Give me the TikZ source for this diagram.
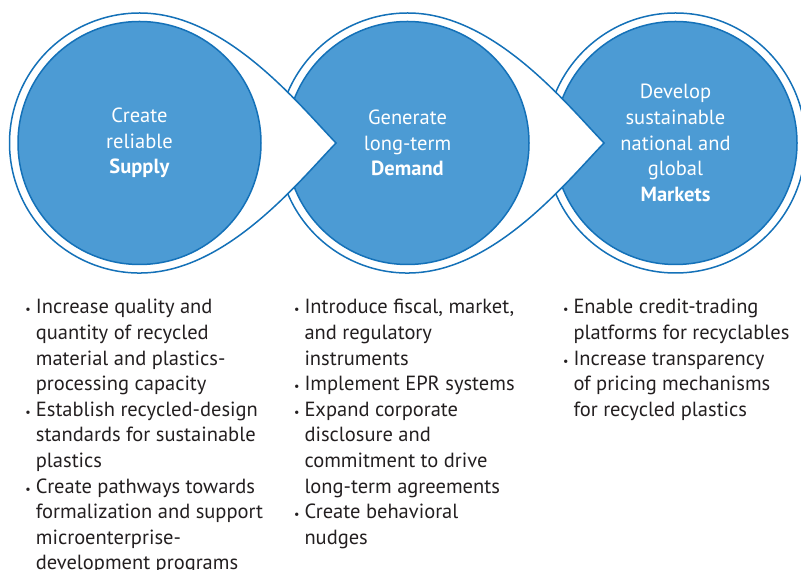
\documentclass[tikz,border=0pt]{standalone}
\usepackage{fontspec}
\setmainfont{PT Sans}
\definecolor{fillblue}{RGB}{76,155,212}
\definecolor{lineblue}{RGB}{20,113,184}
\definecolor{txt}{RGB}{35,31,32}
\newcommand\bu{\leavevmode\llap{{\fontsize{12}{12}\selectfont •}\hspace{5pt}}}
\begin{document}
\begin{tikzpicture}[x=1pt,y=1pt,
 ring/.style={draw=lineblue, line width=1.5pt, fill=white},
 disc/.style={circle, draw=lineblue, line width=1.5pt, fill=fillblue, minimum size=243pt, inner sep=0pt, text=white, align=center, font=\fontsize{20.5}{25.6}\selectfont},
 list/.style={anchor=base west, inner sep=0pt, text=txt, font=\fontsize{20.5}{25.6}\selectfont}]
\useasboundingbox (0,0) rectangle (801,570);

% group 3
\coordinate (c3) at (675.5,427);
\draw[ring] (c3) circle[radius=130];
\node[disc] (markets) at (c3) {Develop\\sustainable\\national and\\global\\\textbf{Markets}};

% group 2
\coordinate (c2) at (407.5,427);
\draw[ring, shift={(c2)}] (78:130) .. controls (100.4,111.6) and (162,36) .. (196.5,0) .. controls (162,-36) and (100.4,-111.6) .. (-78:130) arc[start angle=-78, end angle=-282, radius=130] -- cycle;
\node[disc] (demand) at (c2) {Generate\\long-term\\\textbf{Demand}};

% group 1
\coordinate (c1) at (139.5,427);
\draw[ring, shift={(c1)}] (78:130) .. controls (100.4,111.6) and (162,36) .. (196.5,0) .. controls (162,-36) and (100.4,-111.6) .. (-78:130) arc[start angle=-78, end angle=-282, radius=130] -- cycle;
\node[disc] (supply) at (c1) {Create\\reliable\\\textbf{Supply}};

% lists
\node[list] (l1) at (35.7,256) {\parbox[t]{260pt}{\raggedright
\bu Increase quality and\\
quantity of recycled\\
material and plastics-\\
processing capacity\\
\bu Establish recycled-design\\
standards for sustainable\\
plastics\\
\bu Create pathways towards\\
formalization and support\\
microenterprise-\\
development programs}};

\node[list] (l2) at (304.3,256) {\parbox[t]{260pt}{\raggedright
\bu Introduce fiscal, market,\\
and regulatory\\
instruments\\
\bu Implement EPR systems\\
\bu Expand corporate\\
disclosure and\\
commitment to drive\\
long-term agreements\\
\bu Create behavioral\\
nudges}};

\node[list] (l3) at (573.3,256) {\parbox[t]{260pt}{\raggedright
\bu Enable credit-trading\\
platforms for recyclables\\
\bu Increase transparency\\
of pricing mechanisms\\
for recycled plastics}};
\end{tikzpicture}
\end{document}
